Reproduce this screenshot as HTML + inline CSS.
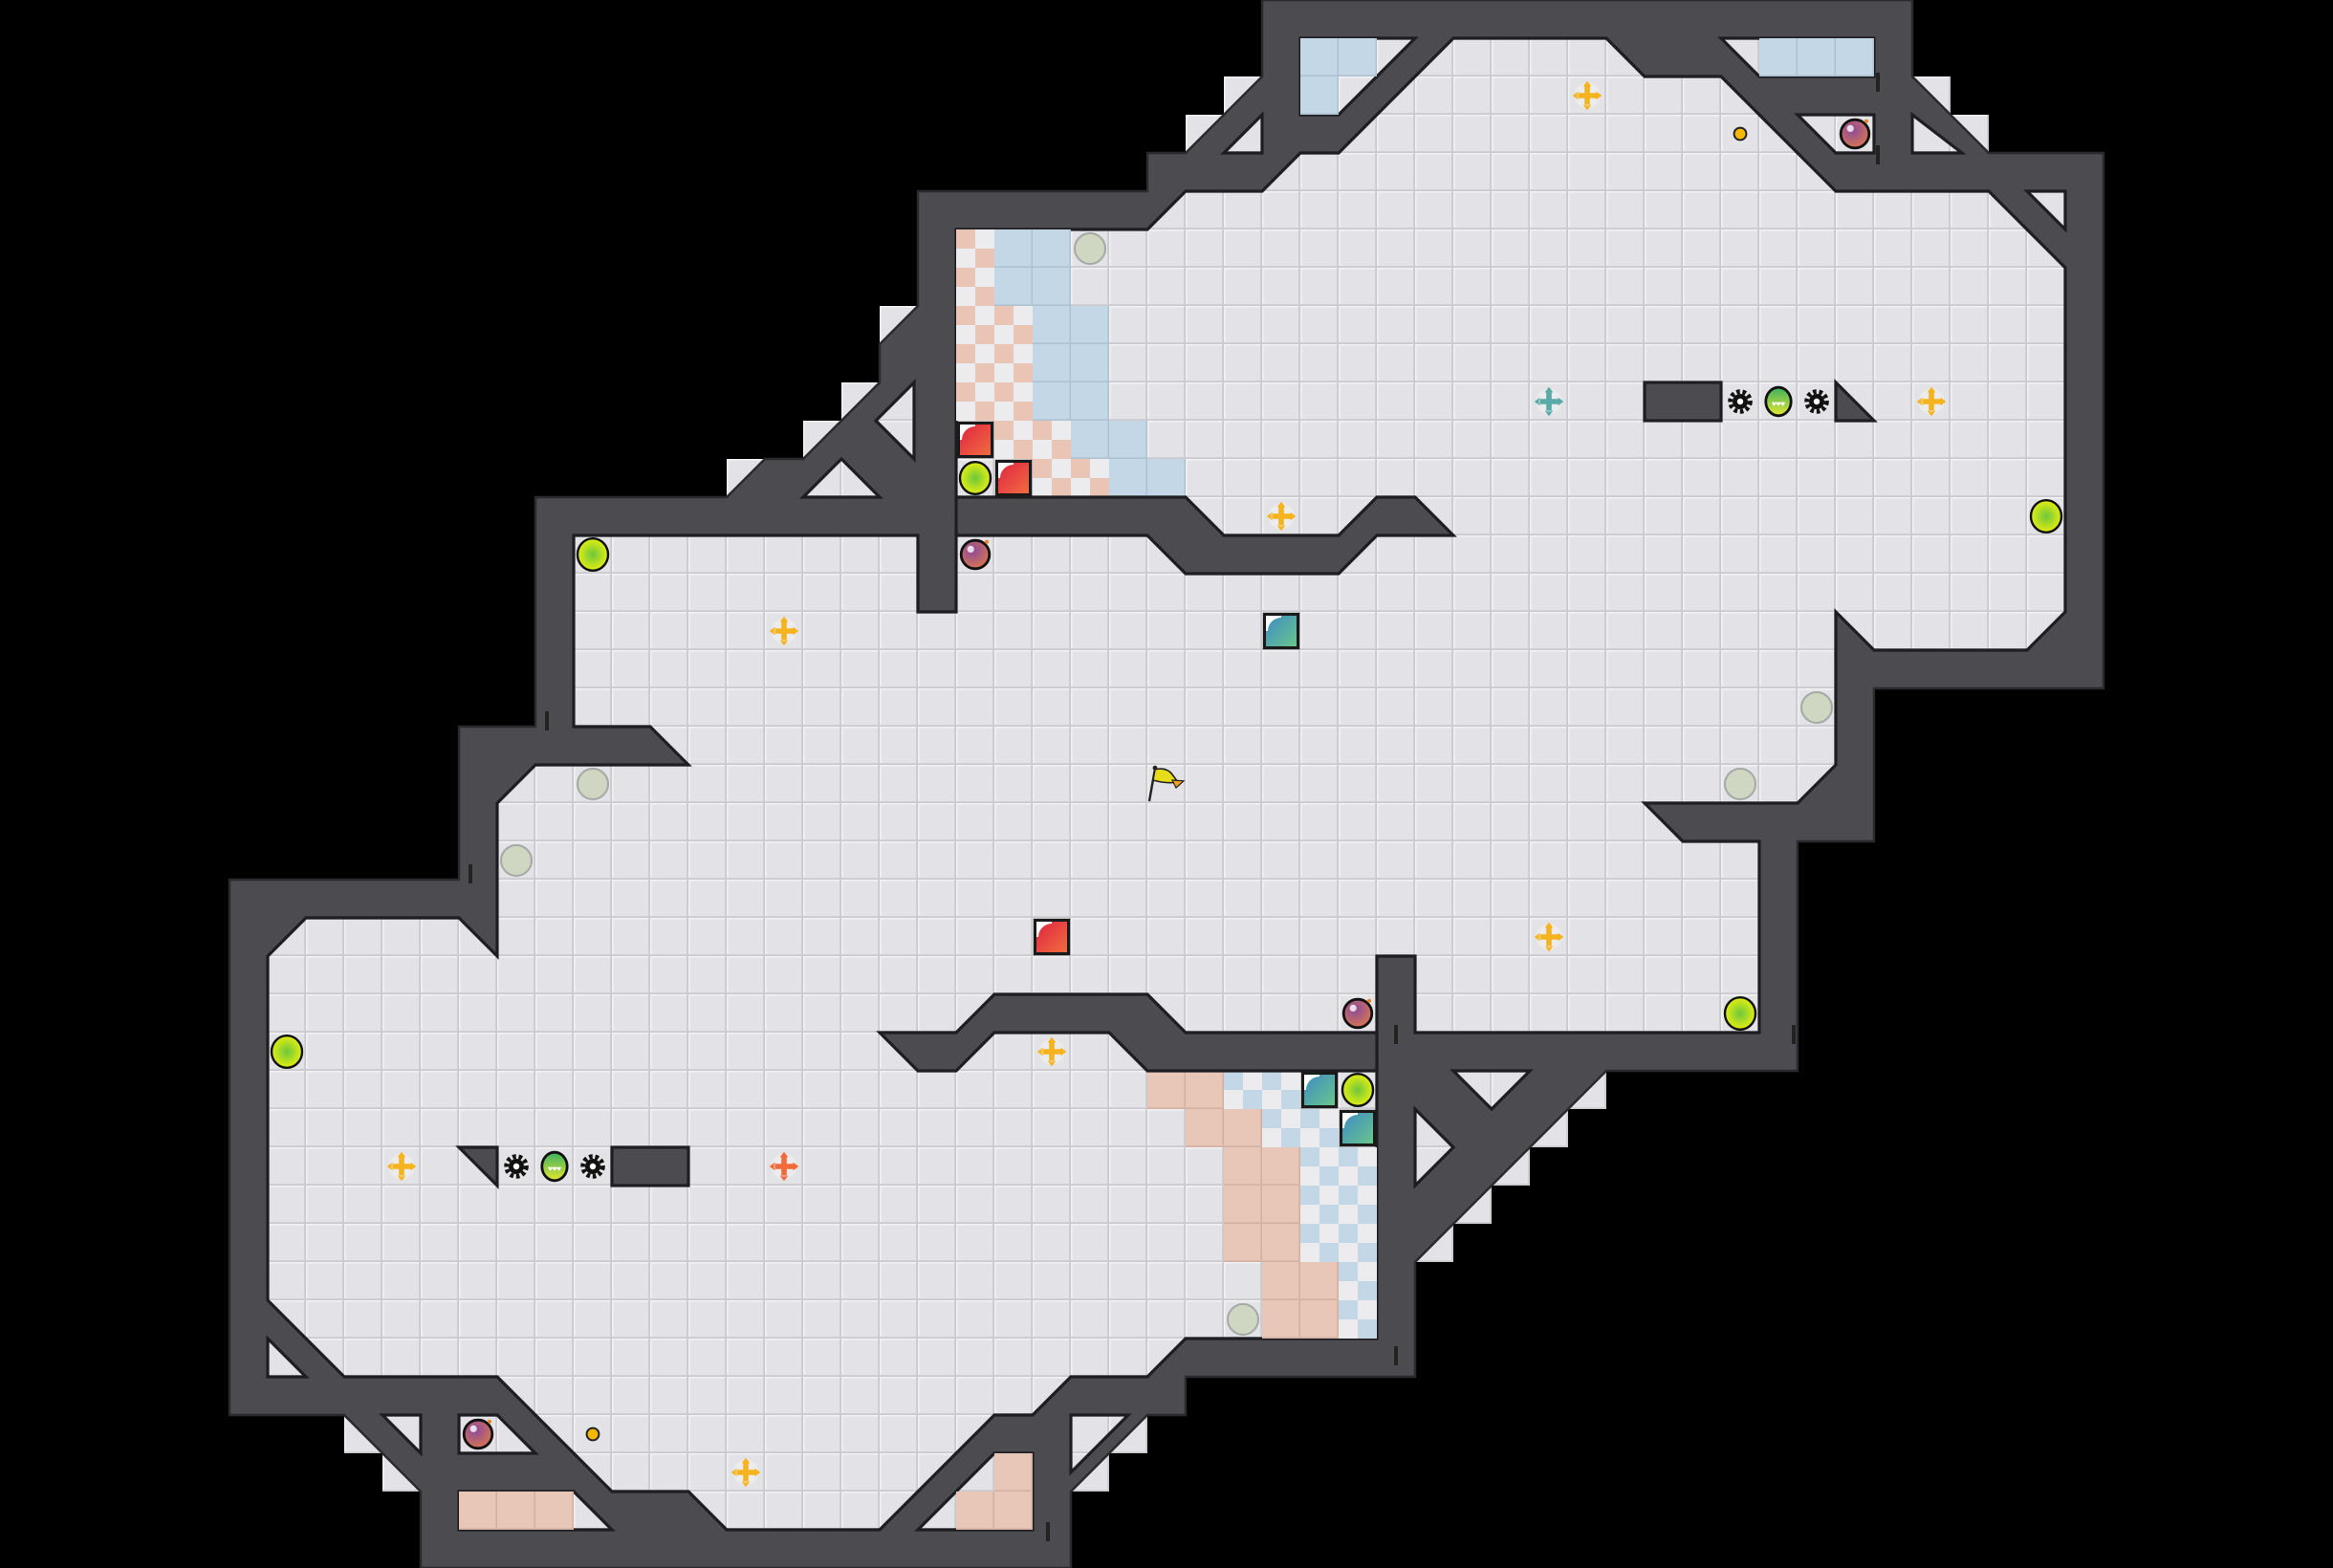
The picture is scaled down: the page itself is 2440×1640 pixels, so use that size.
<!DOCTYPE html>
<html><head><meta charset="utf-8"><style>html,body{margin:0;padding:0;background:#000}svg{display:block}</style></head>
<body>
<svg width="2440" height="1640" viewBox="0 0 61 41" xmlns="http://www.w3.org/2000/svg">
<defs>
<pattern id="tile" patternUnits="userSpaceOnUse" width="1" height="1">
<rect width="1" height="1" fill="#e3e3e7"/>
<path d="M0,0.02H1M0.02,0V1" stroke="#f1f1f4" stroke-width="0.04"/>
<path d="M0,0.98H1M0.98,0V1" stroke="#c9c9ce" stroke-width="0.05"/>
</pattern>
<radialGradient id="lime" cx="0.5" cy="0.5" r="0.5"><stop offset="0" stop-color="#6cc83c"/><stop offset="1" stop-color="#e4ee10"/></radialGradient>
<radialGradient id="purp" cx="0.4" cy="0.35" r="0.6"><stop offset="0" stop-color="#8a4a9a"/><stop offset="1" stop-color="#d0705a"/></radialGradient>
<linearGradient id="grn" x1="0" y1="0" x2="0" y2="1"><stop offset="0" stop-color="#3ab060"/><stop offset="1" stop-color="#e4e830"/></linearGradient>
<linearGradient id="redg" x1="0" y1="0" x2="1" y2="1"><stop offset="0" stop-color="#e02040"/><stop offset="1" stop-color="#f07040"/></linearGradient>
<linearGradient id="tealg" x1="0" y1="0" x2="1" y2="1"><stop offset="0" stop-color="#3a88c8"/><stop offset="1" stop-color="#6cc888"/></linearGradient>
<g id="lb"><ellipse rx="0.4" ry="0.42" fill="url(#lime)" stroke="#111" stroke-width="0.06"/></g>
<g id="pb"><circle r="0.4" fill="#cfd7c2" stroke="#a6a8a4" stroke-width="0.05"/></g>
<g id="pu"><circle r="0.37" fill="url(#purp)" stroke="#111" stroke-width="0.07"/><circle cx="-0.12" cy="-0.14" r="0.09" fill="#fff" opacity="0.8"/><circle cx="0.3" cy="-0.33" r="0.05" fill="#f08020"/></g>
<g id="cr"><circle r="0.33" fill="#ececee" opacity="0.9"/><path d="M-0.07,-0.26h0.14v0.19h0.19v0.14h-0.19v0.19h-0.14v-0.19h-0.19v-0.14h0.19zM0,-0.38L0.11,-0.24L-0.11,-0.24ZM0,0.38L0.11,0.24L-0.11,0.24ZM-0.38,0L-0.24,0.11L-0.24,-0.11ZM0.38,0L0.24,0.11L0.24,-0.11Z"/></g>
<g id="rb"><rect x="0.06" y="0.06" width="0.88" height="0.88" fill="url(#redg)" stroke="#1a1a1a" stroke-width="0.08"/><path d="M0.1,0.1h0.4v0.05a0.35,0.35 0 0 0 -0.35,0.35h-0.05z" fill="#fff"/></g>
<g id="tb"><rect x="0.06" y="0.06" width="0.88" height="0.88" fill="url(#tealg)" stroke="#1a1a1a" stroke-width="0.08"/><path d="M0.1,0.1h0.4v0.05a0.35,0.35 0 0 0 -0.35,0.35h-0.05z" fill="#fff"/></g>
<g id="gear"><circle r="0.2" fill="#111"/><circle r="0.26" fill="none" stroke="#111" stroke-width="0.12" stroke-dasharray="0.09 0.07"/><circle r="0.08" fill="#fff"/></g>
<g id="gb"><ellipse rx="0.33" ry="0.37" fill="url(#grn)" stroke="#111" stroke-width="0.07"/><path d="M-0.18,0.02h0.36l-0.06,0.1l-0.06,-0.07l-0.06,0.07l-0.06,-0.07l-0.06,0.07z" fill="#fff"/></g>
<g id="pk"><rect width="1" height="1" fill="#e8c6b8"/><path d="M0,0.98H1M0.98,0V1" stroke="#d4b0a2" stroke-width="0.04"/></g>
<g id="bl"><rect width="1" height="1" fill="#c3d7e6"/><path d="M0,0.98H1M0.98,0V1" stroke="#adc3d4" stroke-width="0.04"/></g>
<g id="pc"><rect width="1" height="1" fill="#ececee"/><rect width="0.5" height="0.5" fill="#eac4b4"/><rect x="0.5" y="0.5" width="0.5" height="0.5" fill="#eac4b4"/></g>
<g id="bc"><rect width="1" height="1" fill="#ececee"/><rect width="0.5" height="0.5" fill="#c3d7e6"/><rect x="0.5" y="0.5" width="0.5" height="0.5" fill="#c3d7e6"/></g>
</defs>
<rect width="61" height="41" fill="#000"/>
<polygon fill="url(#tile)" points="33,0 50,0 50,2 51,2 51,3 52,3 52,4 55,4 55,18 49,18 49,22 47,22 47,28 42,28 42,29 41,29 41,30 40,30 40,31 39,31 39,32 38,32 38,33 37,33 37,36 31,36 31,37 30,37 30,38 29,38 29,39 28,39 28,41 11,41 11,39 10,39 10,38 9,38 9,37 6,37 6,23 12,23 12,19 14,19 14,13 19,13 19,12 21,12 21,11 22,11 22,10 23,10 23,8 24,8 24,5 30,5 30,4 31,4 31,3 32,3 32,2 33,2"/>
<polygon fill="#4b4b50" stroke="#2a2a2e" stroke-width="0.06" points="33,0 50,0 50,2 52,4 55,4 55,18 49,18 49,22 47,22 47,28 42,28 37,33 37,36 31,36 31,37 30,37 28,39 28,41 11,41 11,39 9,37 6,37 6,23 12,23 12,19 14,19 14,13 19,13 20,12 21,12 23,10 23,9 24,8 24,5 30,5 30,4 31,4 33,2"/>
<polygon fill="url(#tile)" stroke="#1e1e22" stroke-width="0.08" points="25,6 30,6 31,5 33,5 34,4 35,4 38,1 42,1 43,2 45,2 48,5 52,5 54,7 54,16 53,17 49,17 48,16 48,20 47,21 43,21 44,22 46,22 46,27 37,27 37,25 36,25 36,35 31,35 30,36 28,36 27,37 26,37 23,40 19,40 18,39 16,39 13,36 9,36 7,34 7,25 8,24 12,24 13,25 13,21 14,20 18,20 17,19 15,19 15,14 24,14 25,14"/>
<g fill="url(#tile)" stroke="#1e1e22" stroke-width="0.08">
<polygon points="34,1 37,1 35,3 34,3"/>
<polygon points="32,4 33,3 33,4"/>
<polygon points="45,1 49,1 49,2 46,2"/>
<polygon points="47,3 49,3 49,4 48,4"/>
<polygon points="50,3 51.3,4 50,4"/>
<polygon points="53,5 54,5 54,6"/>
<polygon points="38,28 40,28 39,29"/>
<polygon points="37,29 38,30 37,31"/>
<polygon points="28,37 29.5,37 28,38.5"/>
<polygon points="24,40 26,38 27,38 27,40"/>
<polygon points="12,39 15,39 16,40 12,40"/>
<polygon points="12,37 13,37 14,38 12,38"/>
<polygon points="10,37 11,37 11,38"/>
<polygon points="7,35 8,36 7,36"/>
<polygon points="23.9,10 23.9,12 22.9,11"/>
<polygon points="21,13 22,12 23,13"/>
</g>
<use href="#bl" x="34" y="1"/><use href="#bl" x="35" y="1"/><use href="#bl" x="34" y="2"/>
<use href="#bl" x="46" y="1"/><use href="#bl" x="47" y="1"/><use href="#bl" x="48" y="1"/>
<use href="#pc" x="25" y="6"/><use href="#pc" x="25" y="7"/><use href="#pc" x="25" y="8"/><use href="#pc" x="25" y="9"/><use href="#pc" x="25" y="10"/>
<use href="#bl" x="26" y="6"/><use href="#bl" x="27" y="6"/><use href="#bl" x="26" y="7"/><use href="#bl" x="27" y="7"/>
<use href="#pc" x="26" y="8"/><use href="#pc" x="26" y="9"/><use href="#pc" x="26" y="10"/>
<use href="#bl" x="27" y="8"/><use href="#bl" x="28" y="8"/><use href="#bl" x="27" y="9"/><use href="#bl" x="28" y="9"/><use href="#bl" x="27" y="10"/><use href="#bl" x="28" y="10"/>
<use href="#pc" x="26" y="11"/><use href="#pc" x="27" y="11"/><use href="#bl" x="28" y="11"/><use href="#bl" x="29" y="11"/>
<use href="#pc" x="27" y="12"/><use href="#pc" x="28" y="12"/><use href="#bl" x="29" y="12"/><use href="#bl" x="30" y="12"/>
<use href="#pk" x="30" y="28"/><use href="#pk" x="31" y="28"/><use href="#bc" x="32" y="28"/><use href="#bc" x="33" y="28"/>
<use href="#pk" x="31" y="29"/><use href="#pk" x="32" y="29"/><use href="#bc" x="33" y="29"/><use href="#bc" x="34" y="29"/>
<use href="#pk" x="32" y="30"/><use href="#pk" x="33" y="30"/><use href="#bc" x="34" y="30"/><use href="#bc" x="35" y="30"/>
<use href="#pk" x="32" y="31"/><use href="#pk" x="33" y="31"/><use href="#bc" x="34" y="31"/><use href="#bc" x="35" y="31"/>
<use href="#pk" x="32" y="32"/><use href="#pk" x="33" y="32"/><use href="#bc" x="34" y="32"/><use href="#bc" x="35" y="32"/>
<use href="#pk" x="33" y="33"/><use href="#pk" x="34" y="33"/><use href="#bc" x="35" y="33"/>
<use href="#pk" x="33" y="34"/><use href="#pk" x="34" y="34"/><use href="#bc" x="35" y="34"/>
<use href="#pk" x="12" y="39"/><use href="#pk" x="13" y="39"/><use href="#pk" x="14" y="39"/>
<use href="#pk" x="26" y="38"/><use href="#pk" x="25" y="39"/><use href="#pk" x="26" y="39"/>
<g fill="#4b4b50" stroke="#1e1e22" stroke-width="0.08">
<polygon points="25,13 31,13 32,14 35,14 36,13 37,13 38,14 36,14 35,15 31,15 30,14 25,14"/>
<polygon points="24,14 25,14 25,16 24,16"/>
<polygon points="23,27 25,27 26,26 30,26 31,27 36,27 36,28 30,28 29,27 26,27 25,28 24,28"/>
<rect x="43" y="10" width="2" height="1"/>
<polygon points="48,10 48,11 49,11"/>
<rect x="16" y="30" width="2" height="1"/>
<polygon points="12,30 13,30 13,31"/>
</g>
<rect x="24.04" y="13.04" width="0.92" height="1.2" fill="#4b4b50"/>
<g stroke="#222" stroke-width="0.1">
<path d="M49.1,1.9V2.4M49.1,3.8V4.3M14.3,18.6V19.1M12.3,22.6V23.1M36.5,26.8V27.3M46.9,26.8V27.3M36.5,35.2V35.7M27.4,39.8V40.3"/>
</g>
<use href="#rb" x="25" y="11"/><use href="#rb" x="26" y="12"/><use href="#rb" x="27" y="24"/>
<use href="#tb" x="33" y="16"/><use href="#tb" x="34" y="28"/><use href="#tb" x="35" y="29"/>
<use href="#lb" x="15.5" y="14.5"/><use href="#lb" x="25.5" y="12.5"/><use href="#lb" x="53.5" y="13.5"/><use href="#lb" x="45.5" y="26.5"/><use href="#lb" x="7.5" y="27.5"/><use href="#lb" x="35.5" y="28.5"/>
<use href="#pb" x="28.5" y="6.5"/><use href="#pb" x="15.5" y="20.5"/><use href="#pb" x="13.5" y="22.5"/><use href="#pb" x="47.5" y="18.5"/><use href="#pb" x="45.5" y="20.5"/><use href="#pb" x="32.5" y="34.5"/>
<use href="#pu" x="25.5" y="14.5"/><use href="#pu" x="48.5" y="3.5"/><use href="#pu" x="35.5" y="26.5"/><use href="#pu" x="12.5" y="37.5"/>
<g fill="#f5b41e">
<use href="#cr" x="41.5" y="2.5"/><use href="#cr" x="20.5" y="16.5"/><use href="#cr" x="33.5" y="13.5"/><use href="#cr" x="50.5" y="10.5"/><use href="#cr" x="40.5" y="24.5"/><use href="#cr" x="27.5" y="27.5"/><use href="#cr" x="10.5" y="30.5"/><use href="#cr" x="19.5" y="38.5"/>
</g>
<use href="#cr" x="40.5" y="10.5" fill="#5aaaa8"/>
<use href="#cr" x="20.5" y="30.5" fill="#f06a3a"/>
<circle cx="45.5" cy="3.5" r="0.16" fill="#f5b800" stroke="#222" stroke-width="0.05"/>
<circle cx="15.5" cy="37.5" r="0.16" fill="#f5b800" stroke="#222" stroke-width="0.05"/>
<use href="#gear" x="45.5" y="10.5"/><use href="#gb" x="46.5" y="10.5"/><use href="#gear" x="47.5" y="10.5"/>
<use href="#gear" x="13.5" y="30.5"/><use href="#gb" x="14.5" y="30.5"/><use href="#gear" x="15.5" y="30.5"/>
<line x1="30.05" y1="20.95" x2="30.2" y2="20.1" stroke="#222" stroke-width="0.06"/>
<circle cx="30.2" cy="20.08" r="0.06" fill="#222"/>
<path d="M30.2,20.12 Q30.5,20.05 30.65,20.25 L30.8,20.45 Q30.5,20.5 30.15,20.4 Z" fill="#e8dc1a" stroke="#222" stroke-width="0.04"/>
<path d="M30.65,20.4 L30.95,20.42 L30.75,20.6 Z" fill="#f0a020" stroke="#222" stroke-width="0.03"/>
</svg>
</body></html>
